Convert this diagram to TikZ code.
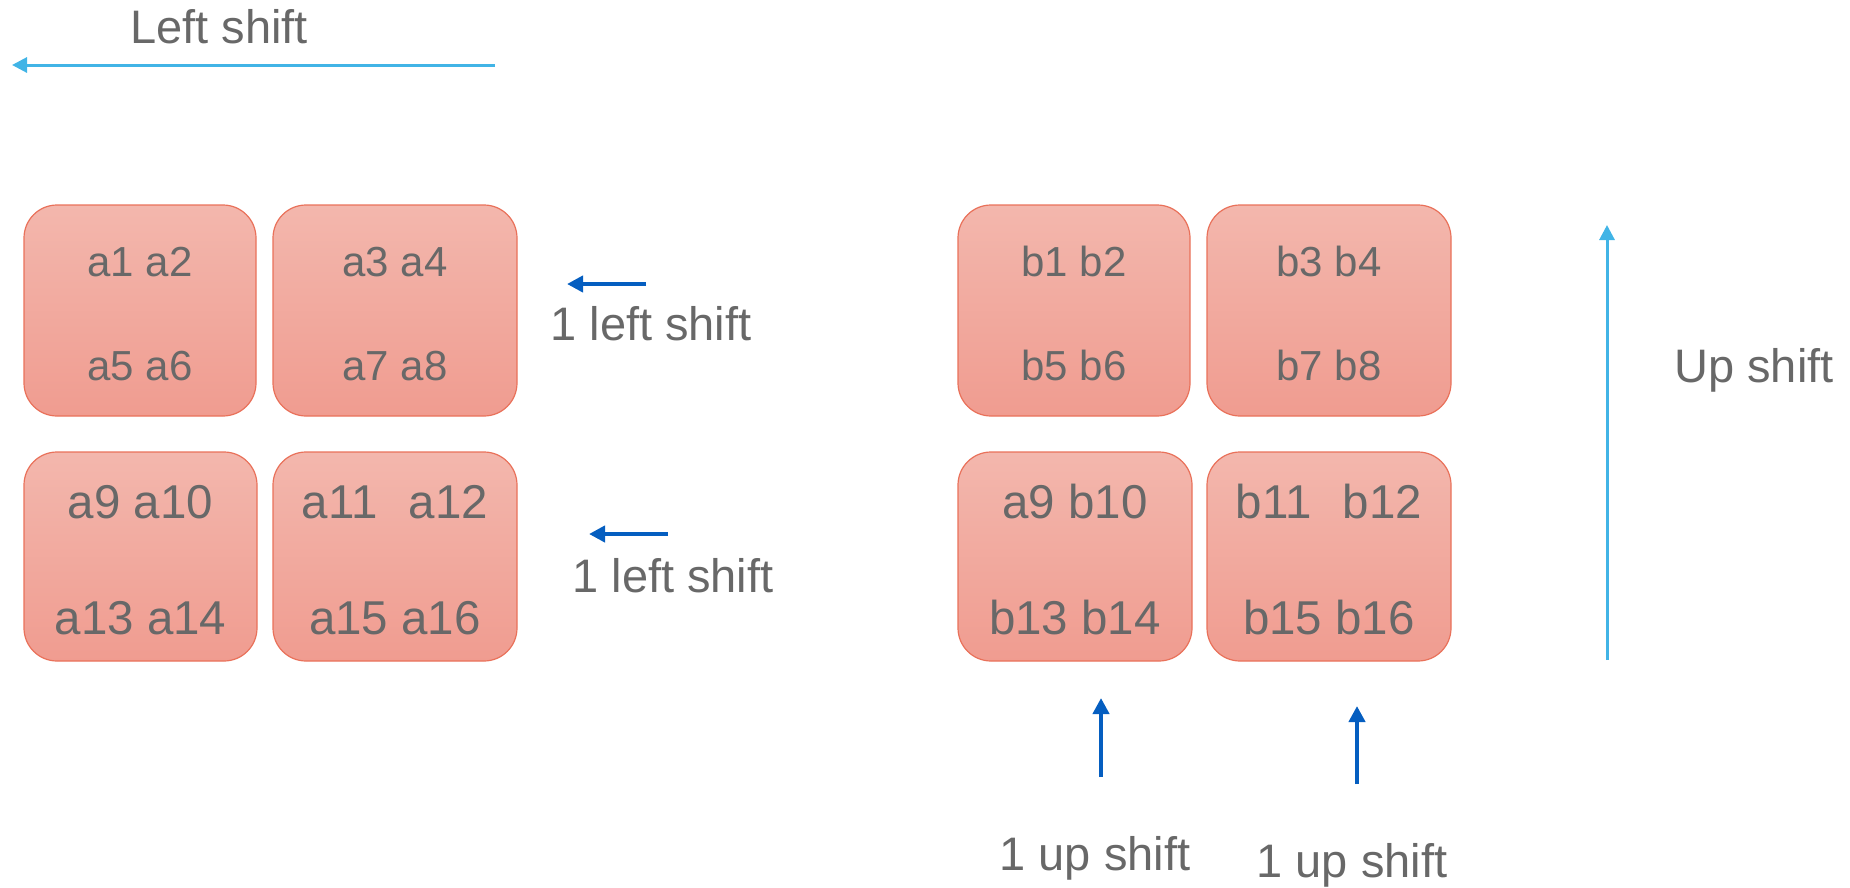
\documentclass[tikz,border=0pt]{standalone}
\usepackage{fontspec}
\setmainfont{Liberation Sans}
\usetikzlibrary{arrows.meta,shadings}
\definecolor{txtgray}{RGB}{104,104,104}
\definecolor{lightblue}{RGB}{65,180,230}
\definecolor{darkblue}{RGB}{5,94,192}
\definecolor{boxtop}{RGB}{243,183,173}
\definecolor{boxbot}{RGB}{240,156,144}
\definecolor{boxline}{RGB}{233,113,90}
\newcommand{\toppad}[1]{\rule{0pt}{#1}}
\tikzset{
  cell/.style={draw=boxline, line width=1.2pt, rounded corners=33pt,
    top color=boxtop, bottom color=boxbot, inner sep=0pt,
    text=txtgray, align=center},
  smallcell/.style={cell, minimum height=211pt, font=\fontsize{42}{104}\selectfont},
  bigcell/.style={cell, minimum height=209pt, font=\fontsize{47.5}{116}\selectfont},
  lbl/.style={text=txtgray, font=\fontsize{47}{56}\selectfont, anchor=base, inner sep=0pt},
  bigarrow/.style={draw=lightblue, line width=3pt, -{Triangle[length=15pt,width=15pt]}},
  smallarrow/.style={draw=darkblue, line width=4pt, -{Triangle[length=16pt,width=16pt]}}
}
\begin{document}
\begin{tikzpicture}[x=1pt,y=-1pt]
\useasboundingbox (0,0) rectangle (1850,887);
% left group
\node[smallcell, minimum width=232pt] (A1) at (140,310.5) {\toppad{37pt}a1 a2\\a5 a6};
\node[smallcell, minimum width=244pt] (A3) at (395,310.5) {\toppad{37pt}a3 a4\\a7 a8};
\node[bigcell, minimum width=233pt] (A9) at (140.5,556.5) {\toppad{41pt}a9 a10\\a13 a14};
\node[bigcell, minimum width=244pt] (A11) at (395,556.5) {\toppad{41pt}a11\hspace{0.66em}a12\\a15 a16};
% right group
\node[smallcell, minimum width=232pt] (B1) at (1074,310.5) {\toppad{37pt}b1 b2\\b5 b6};
\node[smallcell, minimum width=244pt] (B3) at (1329,310.5) {\toppad{37pt}b3 b4\\b7 b8};
\node[bigcell, minimum width=234pt] (B9) at (1075,556.5) {\toppad{41pt}a9 b10\\b13 b14};
\node[bigcell, minimum width=244pt] (B11) at (1329,556.5) {\toppad{41pt}b11\hspace{0.66em}b12\\b15 b16};
% labels
\node[lbl] (lsh) at (219,43) {Left shift};
\node[lbl] (l1) at (651,340) {1 left shift};
\node[lbl] (l2) at (673,592) {1 left shift};
\node[lbl] (u1) at (1095,870) {1 up shift};
\node[lbl] (u2) at (1352,877) {1 up shift};
\node[lbl] (ush) at (1754,382) {Up shift};
% arrow ends
\coordinate (lsA) at (495,65);   \coordinate (lsB) at (12,65);
\coordinate (l1A) at (646,284);  \coordinate (l1B) at (567,284);
\coordinate (l2A) at (668,534);  \coordinate (l2B) at (589,534);
\coordinate (u1A) at (1101,777); \coordinate (u1B) at (1101,698);
\coordinate (u2A) at (1357,784); \coordinate (u2B) at (1357,706);
\coordinate (usA) at (1607,660); \coordinate (usB) at (1607,225);
\draw[bigarrow] (lsA) -- (lsB);
\draw[bigarrow] (usA) -- (usB);
\draw[smallarrow] (l1A) -- (l1B);
\draw[smallarrow] (l2A) -- (l2B);
\draw[smallarrow] (u1A) -- (u1B);
\draw[smallarrow] (u2A) -- (u2B);
\end{tikzpicture}
\end{document}
